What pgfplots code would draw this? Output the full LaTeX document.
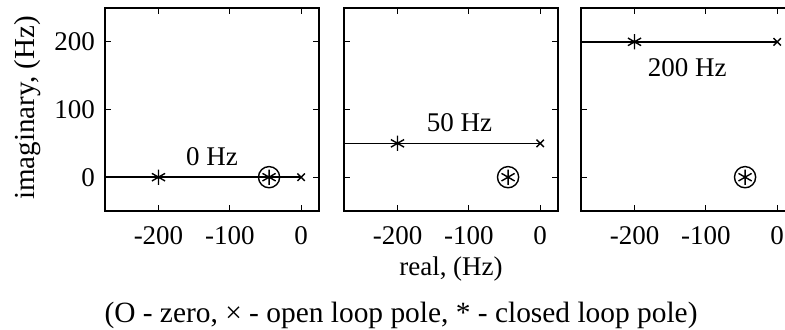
\documentclass[border=0pt]{standalone}
\usepackage{fontspec}
\setmainfont{Liberation Serif}
\usepackage{pgfplots}
\pgfplotsset{compat=1.18}
\begin{document}
\begin{tikzpicture}
\pgfplotsset{
  rl/.style={
    scale only axis, width=107pt, height=101.5pt,
    xmin=-275, xmax=25, ymin=-50, ymax=250,
    xtick={-200,-100,0}, xticklabels={-200,-100,0},
    ytick={0,100,200},
    tick align=inside, major tick length=3pt,
    axis line style={line width=1pt},
    tick style={black, line width=0.5pt},
    tick label style={font=\fontsize{13.5}{15}\selectfont},
    xticklabel style={yshift=-4pt},
    yticklabel style={xshift=-1.5pt},
    /pgf/number format/assume math mode=true,
  },
  rline/.style={black, line width=0.7pt, mark=none},
  cl/.style={only marks, black, mark=asterisk, mark size=3.8pt, mark options={line width=0.7pt}},
  ol/.style={only marks, black, mark=x, mark size=2.6pt, mark options={line width=0.7pt}},
  zr/.style={only marks, black, mark=o, mark size=5.3pt, mark options={line width=0.7pt}},
}
% Panel 1: 0 Hz
\begin{axis}[rl, at={(0pt,0pt)}, anchor=south west]
\addplot[rline] coordinates {(-275,0) (0,0)};
\addplot[cl] coordinates {(-200,0) (-45,0)};
\addplot[ol] coordinates {(0,0)};
\addplot[zr] coordinates {(-45,0)};
\node[font=\fontsize{13.5}{15}\selectfont] at (axis cs:-125,30) {0 Hz};
\end{axis}
% Panel 2: 50 Hz
\begin{axis}[rl, at={(119.5pt,0pt)}, anchor=south west, yticklabels={}]
\addplot[rline] coordinates {(-275,50) (0,50)};
\addplot[cl] coordinates {(-200,50) (-45,0)};
\addplot[ol] coordinates {(0,50)};
\addplot[zr] coordinates {(-45,0)};
\node[font=\fontsize{13.5}{15}\selectfont] at (axis cs:-113,80) {50 Hz};
\end{axis}
% Panel 3: 200 Hz
\begin{axis}[rl, at={(238pt,0pt)}, anchor=south west, yticklabels={}]
\addplot[rline] coordinates {(-275,200) (0,200)};
\addplot[cl] coordinates {(-200,200) (-45,0)};
\addplot[ol] coordinates {(0,200)};
\addplot[zr] coordinates {(-45,0)};
\node[font=\fontsize{13.5}{15}\selectfont] at (axis cs:-126,162) {200 Hz};
\end{axis}
\node[rotate=90, font=\fontsize{14.5}{16}\selectfont] at (-38.5pt,51.5pt) {imaginary, (Hz)};
\node[font=\fontsize{13.5}{15}\selectfont] at (173pt,-29pt) {real, (Hz)};
\node[font=\fontsize{14.7}{17}\selectfont] at (148pt,-52pt) {(O - zero, × - open loop pole, * - closed loop pole)};
\pgfresetboundingbox
\path[use as bounding box] (-52.5pt,-59pt) rectangle (340pt,105.5pt);
\end{tikzpicture}
\end{document}
